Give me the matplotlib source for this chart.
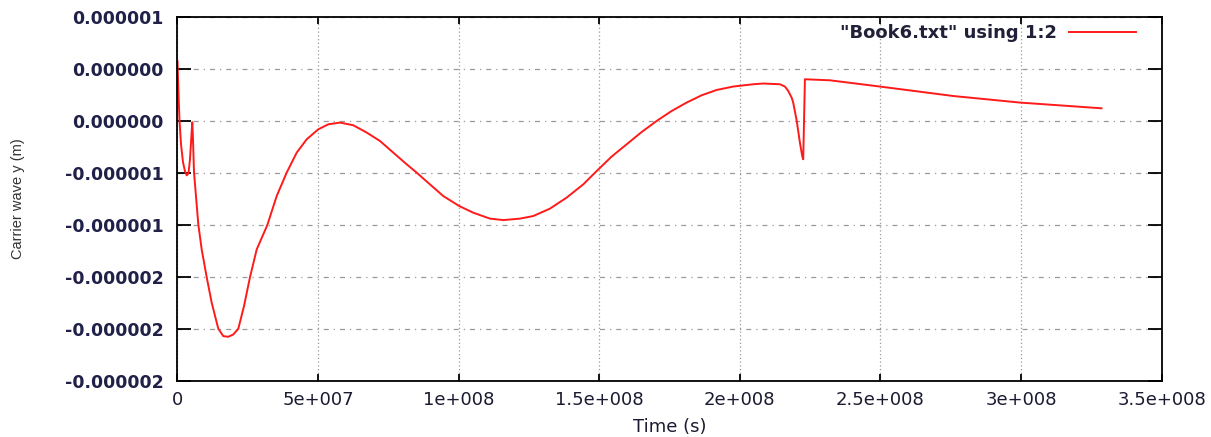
import numpy as np
import matplotlib.pyplot as plt

# ==========================================
# data
# ==========================================
# time (x1e6 s)
time_m = [0.07, 0.43, 0.78, 1.32, 2.03, 2.74, 3.34, 3.98, 4.51, 4.94,
          5.33, 5.58, 5.94, 7.47, 8.67, 10.45, 12.23, 14.58, 16.35, 18.13,
          19.91, 21.69, 23.71, 25.85, 28.23, 32.0, 35.34, 38.89, 42.45, 46.0,
          50.12, 53.68, 57.83, 62.57, 67.33, 72.06, 76.79, 81.55, 85.1, 89.83,
          94.56, 100.25, 105.23, 111.16, 115.89, 121.83, 126.56, 132.49, 138.43, 144.33,
          149.09, 154.43, 159.76, 165.09, 170.42, 175.75, 181.09, 186.42, 191.75, 197.65,
          204.77, 208.32, 212.48, 214.26, 216.03, 217.21, 218.42, 218.98, 220.2, 221.37,
          222.18, 222.54, 223.15, 232.0, 249.8, 275.9, 299.6, 328.6]
# carrier wave y (x1e-7 m)
wave = [5.72, 2.55, 0.05, -2.26, -3.99, -4.86, -5.24, -5.05, -3.70, -1.78,
        -0.14, -1.78, -4.95, -9.95, -12.36, -15.02, -17.48, -19.98, -20.69, -20.75,
        -20.53, -19.98, -17.81, -15.02, -12.36, -10.02, -7.23, -4.98, -3.06, -1.78,
        -0.82, -0.34, -0.17, -0.43, -1.13, -1.94, -3.06, -4.18, -4.98, -6.11,
        -7.23, -8.19, -8.83, -9.40, -9.54, -9.40, -9.15, -8.44, -7.38, -6.11,
        -4.83, -3.44, -2.26, -1.08, -0.02, 0.94, 1.75, 2.45, 2.96, 3.29,
        3.51, 3.58, 3.53, 3.51, 3.29, 2.87, 2.23, 1.75, 0.05, -2.10,
        -3.38, -3.70, 3.99, 3.89, 3.29, 2.38, 1.75, 1.20]

x_ticks = [0, 5e7, 1e8, 1.5e8, 2e8, 2.5e8, 3e8, 3.5e8]
x_tick_labels = ["0", "5e+007", "1e+008", "1.5e+008", "2e+008", "2.5e+008", "3e+008", "3.5e+008"]
y_ticks = [1e-6, 5e-7, 0, -5e-7, -1e-6, -1.5e-6, -2e-6, -2.5e-6]
y_tick_labels = ["0.000001", "0.000000", "0.000000", "-0.000001",
                 "-0.000001", "-0.000002", "-0.000002", "-0.000002"]

t = np.array(time_m) * 1e6
y = np.array(wave) * 1e-7

# ==========================================
# plot
# ==========================================
W, H = 1211, 437
fig = plt.figure(figsize=(W / 100, H / 100), dpi=100)
ax = fig.add_axes([177.3 / W, 1 - 381 / H, 984.4 / W, 364.3 / H])

ax.plot(t, y, color="#ff1a1a", lw=1.4, label='"Book6.txt" using 1:2')

ax.set_xlim(0, 3.5e8)
ax.set_ylim(-2.5e-6, 1e-6)

ax.set_xticks(x_ticks)
ax.set_xticklabels(x_tick_labels, family="DejaVu Sans", fontsize=13, color="#1a1a30")
ax.set_yticks(y_ticks)
ax.set_yticklabels(y_tick_labels, family="DejaVu Sans", fontweight="bold", fontsize=12.5,
                   color="#202048")

ax.tick_params(axis="y", direction="in", length=10, width=1.3, left=True, right=True, pad=10)
ax.tick_params(axis="x", direction="in", length=5, width=1.3, bottom=True, top=True, pad=7)

for s in ax.spines.values():
    s.set_linewidth(1.3)

ax.grid(True, axis="y", color="#9a9a9a", lw=0.9, linestyle=(0, (4, 4, 1, 4)))
ax.grid(True, axis="x", color="#9a9a9a", lw=0.9, linestyle=(0, (1, 2)))

fig.text(670 / W, 1 - 427 / H, "Time (s)", family="DejaVu Sans", fontsize=13,
         color="#1a1a30", ha="center", va="center")
fig.text(18 / W, 1 - 199 / H, "Carrier wave y (m)", family="Liberation Sans", fontsize=10.5,
         color="#333333", ha="center", va="center", rotation=90)

ax.legend(loc="upper right", bbox_to_anchor=(1136 / W, 1 - 24 / H),
          bbox_transform=fig.transFigure, frameon=False, markerfirst=False,
          handlelength=3.7, handletextpad=0.7, borderpad=0, borderaxespad=0,
          prop={"family": "DejaVu Sans", "size": 13, "weight": "bold"}, labelcolor="#202038")

fig.savefig("out.png", dpi=100)
